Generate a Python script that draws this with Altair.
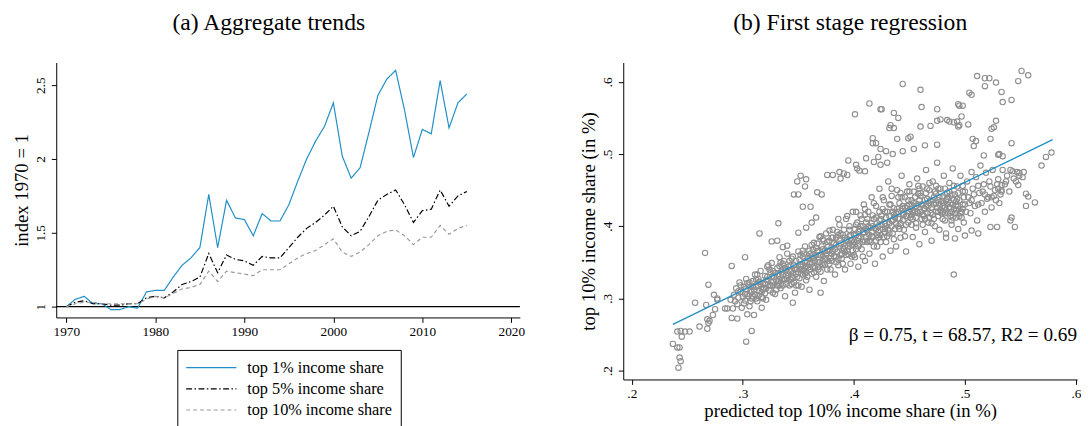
import altair as alt
import pandas as pd

# ---- panel (a): indexed top income shares, 1970 = 1
years = list(range(1970, 2016))
top1 = [1.00, 1.05, 1.07, 1.02, 1.02, 0.98, 0.98, 1.00, 0.99, 1.10,
        1.11, 1.11, 1.20, 1.28, 1.33, 1.40, 1.76, 1.40, 1.72, 1.60,
        1.59, 1.48, 1.63, 1.58, 1.58, 1.69, 1.85, 2.00, 2.12, 2.22,
        2.38, 2.02, 1.87, 1.94, 2.18, 2.43, 2.54, 2.60, 2.33, 2.01,
        2.20, 2.17, 2.53, 2.21, 2.38, 2.44]
top5 = [1.00, 1.03, 1.04, 1.02, 1.02, 1.01, 1.01, 1.02, 1.02, 1.06,
        1.07, 1.06, 1.10, 1.15, 1.17, 1.20, 1.36, 1.23, 1.35, 1.32,
        1.31, 1.28, 1.34, 1.33, 1.33, 1.40, 1.47, 1.53, 1.57, 1.62,
        1.68, 1.54, 1.48, 1.51, 1.61, 1.72, 1.76, 1.79, 1.69, 1.57,
        1.65, 1.66, 1.79, 1.68, 1.75, 1.78]
top10 = [1.00, 1.02, 1.03, 1.03, 1.02, 1.02, 1.02, 1.02, 1.02, 1.05,
         1.07, 1.06, 1.09, 1.12, 1.13, 1.15, 1.24, 1.17, 1.24, 1.23,
         1.22, 1.21, 1.25, 1.25, 1.25, 1.29, 1.33, 1.36, 1.38, 1.42,
         1.46, 1.37, 1.34, 1.37, 1.42, 1.48, 1.51, 1.52, 1.48, 1.42,
         1.47, 1.47, 1.55, 1.49, 1.53, 1.55]
series_names = ["top 1% income share", "top 5% income share", "top 10% income share"]
year_ticks = [1970, 1980, 1990, 2000, 2010, 2020]
index_ticks = [1, 1.5, 2, 2.5]
baseline = 1

# ---- panel (b): first stage scatter
outliers = [
    (.237, .237), (.241, .232), (.243, .232), (.243, .218), (.244, .213), (.242, .204),
    (.241, .254), (.244, .255), (.245, .247), (.248, .254), (.252, .254), (.257, .294),
    (.261, .261), (.266, .363), (.268, .271), (.268, .258), (.269, .319), (.269, .266),
    (.267, .291), (.270, .269), (.274, .305), (.275, .285), (.277, .298), (.277, .300),
    (.273, .277), (.284, .286), (.286, .286), (.290, .345), (.290, .273), (.295, .272),
    (.302, .357), (.303, .240), (.304, .278), (.308, .255), (.310, .277), (.315, .390),
    (.317, .287), (.332, .404), (.331, .380), (.490, .333), (.345, .294), (.370, .308),
    (.401, .555), (.414, .570), (.424, .562), (.425, .562), (.433, .540), (.432, .536),
    (.436, .536), (.436, .557), (.440, .550), (.444, .597), (.460, .589), (.461, .565),
    (.475, .562), (.460, .538), (.469, .539), (.475, .546), (.478, .548), (.451, .524),
    (.449, .522), (.439, .521), (.417, .522), (.417, .515), (.420, .515), (.424, .507),
    (.429, .504), (.435, .500), (.444, .504), (.454, .507), (.464, .512), (.475, .513),
    (.484, .547), (.486, .545), (.490, .544), (.493, .545), (.495, .540), (.494, .538),
    (.497, .552), (.494, .569), (.495, .567), (.498, .567), (.503, .541), (.504, .585),
    (.506, .582), (.507, .521), (.511, .608), (.518, .605), (.522, .605), (.518, .594),
    (.528, .599), (.533, .586), (.534, .572), (.542, .575), (.548, .601), (.551, .615),
    (.557, .609), (.528, .546), (.524, .535), (.523, .521), (.526, .537), (.542, .515),
    (.517, .498), (.530, .499), (.531, .500), (.534, .497), (.508, .511), (.510, .518),
    (.578, .502), (.573, .496), (.569, .484), (.563, .433), (.555, .428), (.555, .445),
    (.557, .441), (.545, .399), (.541, .408), (.542, .412), (.512, .390), (.506, .394),
    (.500, .387), (.491, .383), (.483, .384), (.529, .399), (.523, .399), (.549, .470),
    (.553, .475), (.547, .475), (.541, .478), (.544, .466), (.548, .457), (.533, .457),
    (.533, .450), (.531, .432), (.346, .444), (.350, .444), (.352, .470), (.349, .462),
    (.357, .465), (.356, .455), (.354, .427), (.361, .427), (.367, .447), (.371, .444),
    (.376, .471), (.381, .471), (.387, .475), (.391, .473), (.394, .471), (.395, .491),
    (.388, .466), (.402, .485), (.403, .480), (.405, .477), (.410, .476), (.411, .494),
    (.418, .489), (.422, .496), (.424, .485), (.430, .488), (.366, .412), (.362, .405),
    (.357, .398), (.350, .391), (.336, .371), (.340, .373), (.326, .379),
]
band = [
    (.289, .298), (.291, .286), (.292, .305), (.294, .314), (.295, .292), (.296, .301),
    (.297, .322), (.298, .309), (.299, .287), (.301, .316), (.302, .297), (.303, .327),
    (.304, .306), (.305, .318), (.306, .289), (.307, .311), (.308, .300), (.309, .324),
    (.311, .333), (.311, .305), (.312, .316), (.313, .296), (.314, .327), (.315, .310),
    (.316, .338), (.317, .302), (.318, .321), (.319, .314), (.320, .331), (.321, .298),
    (.322, .344), (.323, .325), (.324, .311), (.325, .336), (.326, .349), (.327, .318),
    (.328, .330), (.329, .306), (.331, .342), (.332, .324), (.333, .357), (.334, .314),
    (.335, .336), (.336, .348), (.337, .327), (.338, .303), (.339, .340), (.340, .362),
    (.341, .331), (.342, .318), (.343, .346), (.344, .355), (.345, .335), (.346, .322),
    (.347, .308), (.348, .352), (.349, .341), (.350, .365), (.351, .328), (.352, .347),
    (.353, .316), (.354, .358), (.355, .338), (.356, .372), (.357, .325), (.358, .350),
    (.359, .343), (.360, .312), (.361, .362), (.362, .334), (.363, .356), (.364, .377),
    (.365, .342), (.366, .330), (.367, .365), (.368, .350), (.369, .385), (.370, .337),
    (.371, .372), (.372, .358), (.373, .324), (.374, .347), (.375, .390), (.376, .366),
    (.377, .352), (.378, .380), (.379, .340), (.380, .371), (.381, .395), (.382, .358),
    (.383, .333), (.384, .384), (.385, .364), (.386, .346), (.387, .402), (.388, .376),
    (.389, .355), (.390, .388), (.391, .368), (.392, .340), (.393, .410), (.394, .381),
    (.395, .361), (.396, .395), (.397, .348), (.398, .374), (.399, .420), (.400, .388),
    (.401, .357), (.402, .402), (.403, .380), (.404, .344), (.405, .396), (.406, .415),
    (.407, .368), (.408, .390), (.409, .430), (.410, .352), (.411, .405), (.412, .378),
    (.413, .420), (.414, .362), (.415, .398), (.416, .440), (.417, .385), (.418, .410),
    (.419, .348), (.420, .428), (.421, .372), (.422, .400), (.423, .452), (.424, .388),
    (.425, .415), (.426, .358), (.427, .436), (.428, .396), (.429, .378), (.430, .420),
    (.431, .462), (.432, .404), (.433, .366), (.434, .442), (.435, .390), (.436, .425),
    (.437, .412), (.438, .372), (.439, .450), (.440, .400), (.441, .432), (.442, .384),
    (.443, .470), (.444, .418), (.445, .395), (.446, .440), (.447, .365), (.448, .428),
    (.449, .405), (.450, .458), (.451, .412), (.452, .436), (.453, .385), (.454, .448),
    (.455, .420), (.456, .398), (.457, .466), (.458, .430), (.459, .375), (.460, .442),
    (.461, .410), (.462, .455), (.463, .425), (.464, .392), (.465, .478), (.466, .438),
    (.467, .405), (.468, .450), (.469, .418), (.470, .380), (.471, .462), (.472, .430),
    (.473, .400), (.474, .445), (.475, .488), (.476, .420), (.477, .395), (.478, .452),
    (.479, .435), (.480, .410), (.481, .470), (.482, .426), (.483, .390), (.484, .446),
    (.485, .418), (.486, .460), (.487, .432), (.488, .402), (.489, .480), (.490, .424),
    (.491, .444), (.492, .412), (.493, .455), (.494, .396), (.495, .436), (.496, .470),
    (.497, .420), (.498, .448), (.499, .405), (.500, .430), (.502, .462), (.503, .440),
    (.505, .418), (.506, .475), (.507, .452), (.509, .428), (.510, .468), (.511, .408),
    (.513, .446), (.514, .484), (.515, .432), (.517, .458), (.518, .420), (.519, .474),
    (.521, .440), (.522, .462), (.524, .426), (.525, .478), (.527, .450), (.528, .436),
    (.530, .465), (.532, .444), (.534, .478), (.536, .458), (.538, .470), (.540, .448),
    (.543, .476), (.546, .462), (.549, .474), (.552, .468),
]
band_core = [
    (.293, .296), (.296, .310), (.300, .302), (.303, .313), (.306, .322), (.309, .303),
    (.312, .326), (.314, .318), (.317, .309), (.320, .320), (.322, .330), (.324, .340),
    (.326, .322), (.329, .335), (.331, .318), (.333, .345), (.335, .326), (.337, .352),
    (.339, .332), (.341, .344), (.343, .326), (.345, .358), (.347, .340), (.349, .330),
    (.351, .354), (.353, .340), (.355, .362), (.357, .345), (.359, .356), (.361, .340),
    (.363, .368), (.365, .352), (.367, .376), (.369, .360), (.371, .348), (.373, .380),
    (.375, .362), (.377, .372), (.379, .356), (.381, .384), (.383, .368), (.385, .392),
    (.387, .372), (.389, .362), (.391, .395), (.393, .380), (.395, .372), (.397, .388),
    (.399, .366), (.401, .396), (.403, .405), (.405, .376), (.407, .410), (.409, .392),
    (.411, .385), (.413, .400), (.415, .378), (.417, .415), (.419, .398), (.421, .388),
    (.423, .420), (.425, .402), (.427, .385), (.429, .412), (.431, .395), (.433, .430),
    (.435, .408), (.437, .396), (.439, .424), (.441, .410), (.443, .440), (.445, .416),
    (.447, .402), (.449, .436), (.451, .424), (.453, .410), (.455, .440), (.457, .420),
    (.459, .452), (.461, .430), (.463, .414), (.465, .446), (.467, .428), (.469, .436),
    (.471, .416), (.473, .448), (.475, .426), (.477, .440), (.479, .418), (.481, .432),
    (.483, .422), (.485, .440), (.487, .414), (.489, .430), (.491, .418), (.493, .438),
    (.495, .424), (.497, .412), (.499, .440), (.501, .420), (.504, .432), (.508, .444),
    (.512, .430), (.516, .448), (.520, .438), (.523, .455), (.526, .442), (.529, .458),
    (.533, .448), (.537, .462),
]
band_fill = [
    (.298, .318), (.301, .293), (.304, .321), (.307, .296), (.310, .312), (.313, .333),
    (.316, .320), (.318, .300), (.321, .314), (.323, .346), (.325, .318), (.327, .338),
    (.330, .312), (.332, .334), (.334, .350), (.336, .318), (.338, .342), (.340, .328),
    (.342, .352), (.344, .320), (.346, .346), (.348, .334), (.350, .318), (.352, .360),
    (.354, .333), (.356, .350), (.358, .330), (.360, .366), (.362, .350), (.364, .336),
    (.366, .370), (.368, .344), (.370, .360), (.372, .382), (.374, .354), (.376, .340),
    (.378, .366), (.380, .352), (.382, .376), (.384, .350), (.386, .388), (.388, .360),
    (.390, .348), (.392, .384), (.394, .366), (.396, .400), (.398, .380), (.400, .360),
    (.402, .388), (.404, .372), (.406, .400), (.408, .358), (.410, .416), (.412, .394),
    (.414, .380), (.416, .404), (.418, .372), (.420, .412), (.422, .392), (.424, .378),
    (.426, .424), (.428, .404), (.430, .386), (.432, .430), (.434, .400), (.436, .382),
    (.438, .418), (.440, .440), (.442, .404), (.444, .428), (.446, .386), (.448, .448),
    (.450, .420), (.452, .402), (.454, .432), (.456, .412), (.458, .445), (.460, .420),
    (.462, .402), (.464, .436), (.466, .418), (.468, .460), (.470, .426), (.472, .410),
    (.474, .432), (.476, .452), (.478, .422), (.480, .440), (.482, .408), (.484, .430),
    (.486, .448), (.488, .420), (.490, .436), (.492, .428), (.494, .446), (.496, .418),
    (.498, .430), (.356, .334), (.364, .356), (.372, .346), (.380, .384), (.388, .390),
    (.396, .376), (.404, .392), (.412, .410), (.420, .396), (.428, .420), (.436, .416),
    (.444, .408), (.452, .428), (.460, .446), (.468, .432), (.476, .436), (.484, .438),
    (.492, .422), (.500, .448), (.506, .436), (.512, .456), (.518, .444), (.524, .440),
    (.530, .452), (.336, .340), (.344, .338), (.352, .344), (.360, .348), (.368, .366),
    (.376, .378), (.384, .374), (.392, .372), (.400, .378), (.408, .400), (.416, .392),
    (.424, .410), (.432, .414), (.440, .420), (.448, .414), (.456, .428), (.464, .424),
    (.472, .440), (.480, .428), (.488, .444),
]
band_dense = [
    (.305, .303), (.309, .316), (.312, .300), (.315, .323), (.318, .312), (.321, .326),
    (.324, .318), (.327, .308), (.330, .326), (.333, .318), (.336, .332), (.339, .320),
    (.342, .338), (.345, .328), (.348, .318), (.351, .340), (.354, .346), (.357, .336),
    (.360, .355), (.363, .344), (.366, .360), (.369, .350), (.372, .368), (.375, .356),
    (.378, .348), (.381, .366), (.384, .358), (.387, .380), (.390, .370), (.393, .360),
    (.396, .386), (.399, .376), (.402, .368), (.405, .386), (.408, .378), (.411, .396),
    (.414, .388), (.417, .400), (.420, .380), (.423, .408), (.426, .396), (.429, .400),
    (.432, .390), (.435, .420), (.438, .404), (.441, .396), (.444, .424), (.447, .414),
    (.450, .430), (.453, .420), (.456, .404), (.459, .436), (.462, .416), (.465, .428),
    (.468, .412), (.471, .436), (.474, .420), (.477, .430), (.480, .420), (.483, .436),
    (.486, .426), (.489, .412), (.492, .434), (.495, .414), (.498, .424), (.470, .404),
    (.476, .414), (.482, .418), (.488, .408), (.494, .428), (.464, .410), (.458, .418),
    (.452, .416), (.446, .426), (.440, .410), (.434, .408), (.428, .392), (.422, .384),
    (.416, .386), (.410, .380), (.404, .384), (.398, .358), (.392, .364), (.386, .354),
    (.380, .362), (.374, .366), (.368, .340), (.362, .358), (.356, .342), (.350, .336),
    (.344, .330), (.338, .326), (.332, .322), (.326, .330), (.320, .307), (.314, .304),
    (.308, .309), (.302, .306), (.418, .432), (.426, .440), (.434, .452), (.442, .446),
    (.450, .448), (.458, .456), (.466, .452), (.474, .456), (.482, .452), (.490, .456),
    (.498, .456), (.386, .410), (.394, .414), (.402, .420), (.410, .424), (.378, .394),
    (.370, .386), (.362, .374), (.354, .366),
]
reg_x = [0.237, 0.579]
reg_y = [0.264, 0.520]
share_ticks = [0.2, 0.3, 0.4, 0.5, 0.6]
stats_label = "β = 0.75, t = 68.57, R2 = 0.69"

SERIF = "Liberation Serif"
colors = ["#1f8fc8", "#000000", "#9a9a9a"]
dashes = [[1, 0], [6, 2.5, 1.5, 2.5], [4, 3]]

trends = pd.DataFrame({
    "year": years * 3,
    "index": top1 + top5 + top10,
    "series": [s for s in series_names for _ in years],
})

legend = alt.Legend(
    orient="none", legendX=123, legendY=292, direction="vertical", title=None,
    symbolType="stroke", symbolSize=2600, symbolStrokeWidth=1.2, clipHeight=20,
    labelFont=SERIF, labelFontSize=16.5, labelColor="black", labelOffset=10,
    strokeColor="black", fillColor="white", padding=8, rowPadding=1.5,
)

idx_scale = alt.Scale(domain=[0.927, 2.653], nice=False, zero=False)
xa = alt.X("year:Q", title=None,
           scale=alt.Scale(domain=[1968.86, 2020.96], nice=False, zero=False),
           axis=alt.Axis(values=year_ticks, format="d", labelFlush=False))
ya = alt.Y("index:Q", title="index 1970 = 1", scale=idx_scale,
           axis=alt.Axis(values=index_ticks, format="~g", labelAngle=270,
                         labelFlush=False, titlePadding=2, labelPadding=4))

lines = alt.Chart(trends).mark_line(strokeWidth=1.2, clip=True).encode(
    x=xa, y=ya,
    color=alt.Color("series:N", scale=alt.Scale(domain=series_names, range=colors), legend=legend),
    strokeDash=alt.StrokeDash("series:N", scale=alt.Scale(domain=series_names, range=dashes), legend=legend),
)
base_rule = alt.Chart(pd.DataFrame({"b": [baseline]})).mark_rule(color="black", strokeWidth=1.2).encode(
    y=alt.Y("b:Q", scale=idx_scale)
)

left = (base_rule + lines).properties(
    width=471, height=259,
    title=alt.TitleParams("(a) Aggregate trends", frame="bounds"),
)

pts = pd.DataFrame(outliers + band + band_core + band_fill + band_dense, columns=["pred", "share"])
xs = alt.Scale(domain=[0.1923, 0.601], nice=False, zero=False)
ys = alt.Scale(domain=[0.1877, 0.6268], nice=False, zero=False)
share_labels = "replace(format(datum.value, '.1f'), '0.', '.')"

scatter = alt.Chart(pts).mark_point(
    shape="circle", filled=False, size=30, strokeWidth=1.1, color="#8e8e8e", opacity=1
).encode(
    x=alt.X("pred:Q", scale=xs, title="predicted top 10% income share (in %)",
            axis=alt.Axis(values=share_ticks, labelExpr=share_labels, labelFlush=False,
                          titlePadding=2)),
    y=alt.Y("share:Q", scale=ys, title="top 10% income share (in %)",
            axis=alt.Axis(values=share_ticks, labelExpr=share_labels, labelAngle=270,
                          labelFlush=False, titlePadding=2, labelPadding=4)),
)
reg = alt.Chart(pd.DataFrame({"pred": reg_x, "share": reg_y})).mark_line(
    color="#1f8fc8", strokeWidth=1.3
).encode(x=alt.X("pred:Q", scale=xs), y=alt.Y("share:Q", scale=ys))
note = alt.Chart(pd.DataFrame({"pred": [0.601], "share": [0.2496], "t": [stats_label]})).mark_text(
    align="right", baseline="middle", font=SERIF, fontSize=19.5, color="black"
).encode(x=alt.X("pred:Q", scale=xs), y=alt.Y("share:Q", scale=ys), text="t:N")

right = (scatter + reg + note).properties(
    width=461, height=322,
    title="(b) First stage regression",
)

chart = alt.hconcat(
    left, right, spacing=56, background="white",
    padding={"left": 5, "top": 0, "right": 0, "bottom": 0},
).configure_view(
    stroke=None
).configure_axis(
    grid=False, domainColor="black", tickColor="black", labelColor="black", titleColor="black",
    labelFont=SERIF, titleFont=SERIF, labelFontSize=13.5, titleFontSize=19,
    titleFontWeight="normal", tickSize=5, labelPadding=2,
).configure_title(
    font=SERIF, fontSize=24, fontWeight="normal", color="black", anchor="middle", offset=28,
)

chart.save("out.html", embed_options={"renderer": "svg", "actions": False})
